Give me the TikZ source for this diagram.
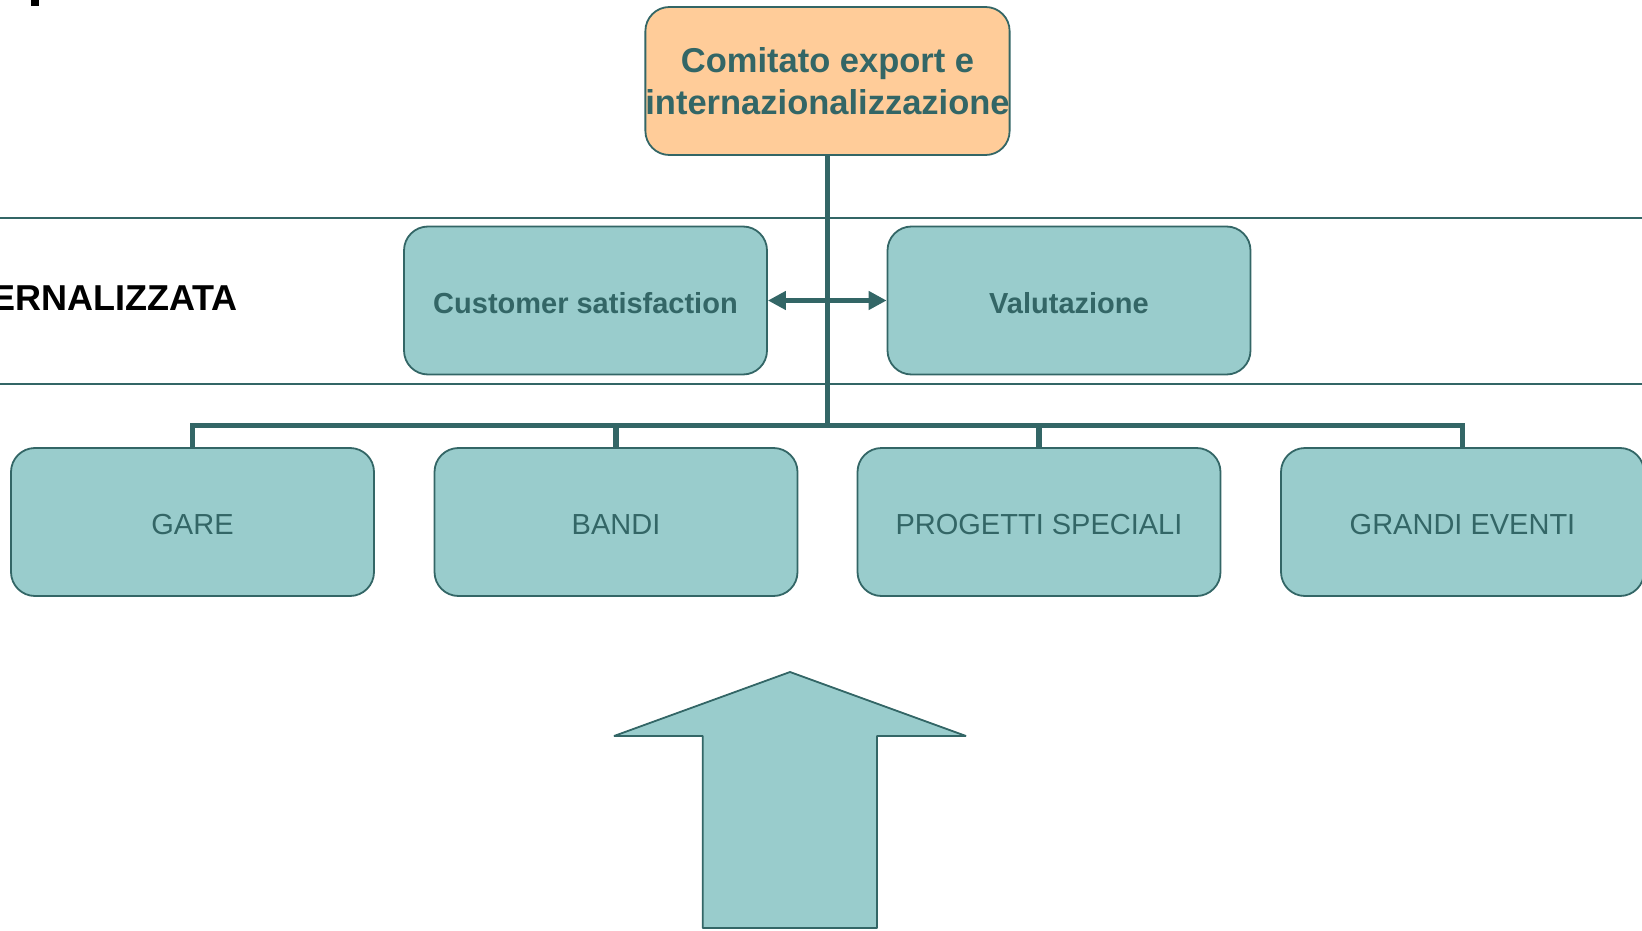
\documentclass[tikz,border=0pt]{standalone}
\usepackage{fontspec}
\setmainfont{Liberation Sans}
\usetikzlibrary{arrows.meta}
\definecolor{tealfill}{RGB}{153,204,204}
\definecolor{tealdark}{RGB}{51,102,102}
\definecolor{orangefill}{RGB}{255,204,153}
\tikzset{
  boxbase/.style={draw=tealdark, line width=1.8pt, rounded corners=24pt,
    minimum width=363pt, minimum height=148pt, inner sep=0pt, text=tealdark, align=center},
  topbox/.style={boxbase, fill=orangefill, font=\fontsize{34.5pt}{42pt}\selectfont\bfseries},
  midbox/.style={boxbase, fill=tealfill, text height=25pt, text depth=0pt, font=\fontsize{29pt}{34pt}\selectfont\bfseries},
  lowbox/.style={boxbase, fill=tealfill, text height=25pt, text depth=0pt, font=\fontsize{29pt}{34pt}\selectfont},
  conn/.style={draw=tealdark, line width=5.6pt},
  sepline/.style={draw=tealdark, line width=1.6pt},
  bigarrow/.style={draw=tealdark, fill=tealfill, line width=1.8pt, line join=bevel}
}
\begin{document}
\begin{tikzpicture}[x=1pt, y=-1pt]
\useasboundingbox (0,0) rectangle (1642,931);
% partial letter top-left
\fill[black] (31,0) rectangle (39,6);
% separator lines
\coordinate (s1l) at (0,218);
\coordinate (s1r) at (1642,218);
\coordinate (s2l) at (0,384);
\coordinate (s2r) at (1642,384);
\draw[sepline] (s1l) -- (s1r);
\draw[sepline] (s2l) -- (s2r);
% side label (cut by the left edge, as in the reference)
\node[anchor=east, inner sep=0pt, font=\fontsize{36pt}{40pt}\selectfont\bfseries] (lbl) at (238,298) {ERNALIZZATA};
\coordinate (busc) at (827.5,425.5);
% nodes
\node[topbox] (top) at (827.5,81) {Comitato export e\\internazionalizzazione};
\node[midbox] (cs) at (585.5,300.5) {Customer satisfaction};
\node[midbox] (val) at (1069,300.5) {Valutazione};
\node[lowbox] (gare) at (192.5,522) {GARE};
\node[lowbox] (bandi) at (616,522) {BANDI};
\node[lowbox] (prog) at (1039,522) {PROGETTI SPECIALI};
\node[lowbox] (grandi) at (1462.5,522) {GRANDI EVENTI};
% connectors
\draw[conn] (top.south) -- (busc);
\draw[conn] (gare.north) |- (busc);
\draw[conn] (bandi.north) |- (busc);
\draw[conn] (prog.north) |- (busc);
\draw[conn] (grandi.north) |- (busc);
\draw[conn, {Triangle[length=18pt,width=18pt]}-{Triangle[length=18pt,width=18pt]}] (cs.east) -- (val.west);
% big arrow
\draw[bigarrow] (790,672) -- (966,736) -- (877,736) -- (877,928) -- (702.7,928) -- (702.7,736) -- (614,736) -- cycle;
\end{tikzpicture}
\end{document}
